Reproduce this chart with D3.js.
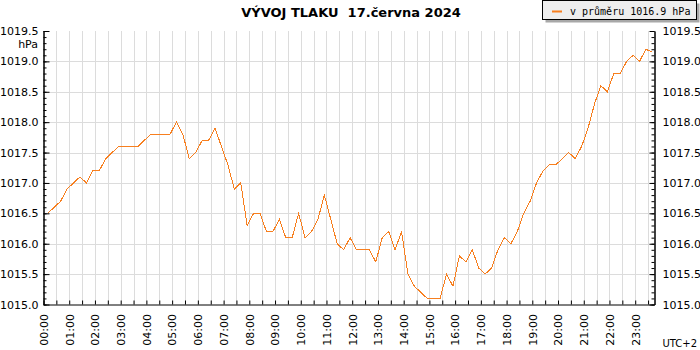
<!DOCTYPE html>
<html>
<head>
<meta charset="utf-8">
<script src="https://cdn.jsdelivr.net/npm/d3@7"></script>
<style>
  body { margin: 0; background: #fff; }
  svg { display: block; font-family: "DejaVu Sans", Verdana, sans-serif; }
</style>
</head>
<body>
<svg id="chart" width="700" height="350"></svg>
<script>
// pressure readings, every 15 min starting 00:10 (local time, UTC+2)
let startMinute = 10;
let stepMinutes = 15;
let pressure = [
  1016.5, 1016.6, 1016.7, 1016.9, 1017.0, 1017.1, 1017.0, 1017.2, 1017.2, 1017.4,
  1017.5, 1017.6, 1017.6, 1017.6, 1017.6, 1017.7, 1017.8, 1017.8, 1017.8, 1017.8,
  1018.0, 1017.8, 1017.4, 1017.5, 1017.7, 1017.7, 1017.9, 1017.6, 1017.3, 1016.9,
  1017.0, 1016.3, 1016.5, 1016.5, 1016.2, 1016.2, 1016.4, 1016.1, 1016.1, 1016.5,
  1016.1, 1016.2, 1016.4, 1016.8, 1016.4, 1016.0, 1015.9, 1016.1, 1015.9, 1015.9,
  1015.9, 1015.7, 1016.1, 1016.2, 1015.9, 1016.2, 1015.5, 1015.3, 1015.2, 1015.1,
  1015.1, 1015.1, 1015.5, 1015.3, 1015.8, 1015.7, 1015.9, 1015.6, 1015.5, 1015.6,
  1015.9, 1016.1, 1016.0, 1016.2, 1016.5, 1016.7, 1017.0, 1017.2, 1017.3, 1017.3,
  1017.4, 1017.5, 1017.4, 1017.6, 1017.9, 1018.3, 1018.6, 1018.5, 1018.8, 1018.8,
  1019.0, 1019.1, 1019.0, 1019.2, 1019.15
];
let hourLabels = ["00:00","01:00","02:00","03:00","04:00","05:00","06:00","07:00",
  "08:00","09:00","10:00","11:00","12:00","13:00","14:00","15:00","16:00","17:00",
  "18:00","19:00","20:00","21:00","22:00","23:00"];
let yMajor = [1015.0, 1015.5, 1016.0, 1016.5, 1017.0, 1017.5, 1018.0, 1018.5, 1019.0, 1019.5];
let title = "VÝVOJ TLAKU  17.června 2024";
let legendText = "v průměru 1016.9 hPa";

let lineColor = "#f77f1f";
let gridColor = "#dcdcdc";

let svg = d3.select("#chart");
let plotLeft = 43.5, plotRight = 654.5, plotTop = 31, plotBottom = 304.5;

let xScale = d3.scaleLinear().domain([0, 1425]).range([plotLeft, plotRight]);
let yScale = d3.scaleLinear().domain([1015, 1019.5]).range([plotBottom, plotTop]);

let halfHours = d3.range(0, 1425, 30);
let minorY = d3.range(1015, 1019.51, 0.1).map(v => +v.toFixed(1));

// grid
svg.append("g").selectAll("line")
  .data(halfHours.filter(m => m > 0))
  .enter()
  .append("line")
    .attr("x1", d => Math.round(xScale(d)) + 0.5)
    .attr("x2", d => Math.round(xScale(d)) + 0.5)
    .attr("y1", plotTop)
    .attr("y2", plotBottom)
    .style("stroke", gridColor);
svg.append("g").selectAll("line")
  .data(yMajor.filter(v => v > 1015 && v < 1019.5))
  .enter()
  .append("line")
    .attr("x1", plotLeft)
    .attr("x2", plotRight)
    .attr("y1", d => Math.round(yScale(d)) + 0.5)
    .attr("y2", d => Math.round(yScale(d)) + 0.5)
    .style("stroke", gridColor);

// line
let line = d3.line()
  .x((d, i) => xScale(startMinute + i * stepMinutes))
  .y(d => yScale(d));
svg.append("path")
  .datum(pressure)
  .attr("d", line)
  .style("fill", "none")
  .style("stroke", lineColor)
  .style("stroke-width", 1)
  .style("shape-rendering", "crispEdges");

// axes
let fmt = d3.format(".1f");
svg.append("g").attr("transform", `translate(${plotLeft},0)`)
  .call(d3.axisLeft(yScale).tickValues(yMajor).tickSize(-6).tickSizeOuter(0).tickPadding(5).tickFormat(fmt));
svg.append("g").attr("transform", `translate(${plotLeft},0)`)
  .call(d3.axisLeft(yScale).tickValues(minorY).tickSize(-3).tickSizeOuter(0).tickFormat(""));
svg.append("g").attr("transform", `translate(${plotRight},0)`)
  .call(d3.axisRight(yScale).tickValues(yMajor).tickSize(-5).tickSizeOuter(0).tickPadding(8).tickFormat(fmt));
svg.append("g").attr("transform", `translate(${plotRight},0)`)
  .call(d3.axisRight(yScale).tickValues(minorY).tickSize(-3).tickSizeOuter(0).tickFormat(""));
svg.append("g").attr("transform", `translate(0,${plotBottom})`)
  .call(d3.axisBottom(xScale).tickValues(halfHours).tickSize(-4).tickSizeOuter(0).tickFormat(""));

svg.selectAll(".domain").style("stroke", "#000");
svg.selectAll(".tick line").style("stroke", "#000");
svg.selectAll(".tick text")
  .style("font-family", "DejaVu Sans, sans-serif")
  .style("font-size", "11px")
  .style("fill", "#000");

// hour labels
svg.append("g").selectAll("text")
  .data(hourLabels)
  .enter()
  .append("text")
    .attr("transform", (d, i) => `translate(${xScale(i * 60) + 0.5},314) rotate(-90)`)
    .attr("dy", "0.35em")
    .style("text-anchor", "end")
    .style("font-size", "11px")
    .text(d => d);

svg.append("text")
  .attr("x", 38).attr("y", 48)
  .style("text-anchor", "end")
  .style("font-size", "11px")
  .text("hPa");
svg.append("text")
  .attr("x", 697).attr("y", 347)
  .style("text-anchor", "end")
  .style("font-size", "10px")
  .text("UTC+2");

// title
svg.append("text")
  .attr("x", 351).attr("y", 17)
  .style("text-anchor", "middle")
  .style("font-size", "13px")
  .style("font-weight", "bold")
  .style("white-space", "pre")
  .text(title);

// legend
svg.append("rect")
  .attr("x", 545.5).attr("y", 3.5).attr("width", 154).attr("height", 19)
  .style("fill", "#a8a8a8");
svg.append("rect")
  .attr("x", 542.5).attr("y", 0.5).attr("width", 154).attr("height", 19)
  .style("fill", "#eeeeee")
  .style("stroke", "#000");
svg.append("line")
  .attr("x1", 552).attr("x2", 562).attr("y1", 11.5).attr("y2", 11.5)
  .style("stroke", lineColor)
  .style("stroke-width", 2);
svg.append("text")
  .attr("x", 570).attr("y", 14.5)
  .style("font-family", "DejaVu Sans Mono, monospace")
  .style("font-size", "10px")
  .text(legendText);
</script>
</body>
</html>
